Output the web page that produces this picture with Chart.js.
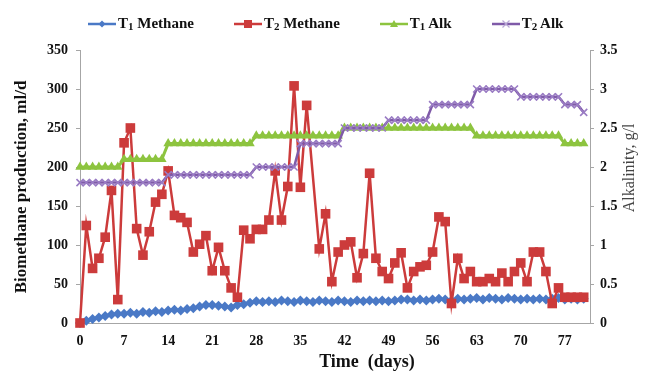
<!DOCTYPE html>
<html>
<head>
<meta charset="utf-8">
<script src="https://cdn.jsdelivr.net/npm/chart.js@4.4.0/dist/chart.umd.min.js"></script>
<style>
  html, body { margin: 0; padding: 0; background: #fff; }
  #wrap { position: relative; width: 647px; height: 373px; }
  #legend {
    position: absolute; top: 15px; left: 88px;
    display: flex; gap: 40px;
    font: bold 15px 'Liberation Serif', serif; color: #111;
  }
  .item { display: flex; align-items: center; white-space: nowrap; }
  .item svg { margin-right: 2px; }
  sub { font-size: 11px; vertical-align: -2px; line-height: 0; }
</style>
</head>
<body>
<div id="wrap">
  <canvas id="chart" width="647" height="373"></canvas>
  <div id="legend"></div>
</div>
<script>
// Days (x values)
const days = [0,1,2,3,4,5,6,7,8,9,10,11,12,13,14,15,16,17,18,19,20,21,22,23,24,25,26,27,28,29,30,
  31,32,33,34,35,36,37,38,39,40,41,42,43,44,45,46,47,48,49,50,51,52,53,54,55,56,57,58,59,60,
  61,62,63,64,65,66,67,68,69,70,71,72,73,74,75,76,77,78,79,80];

// Biomethane production, ml/d
const t1Methane = [0,3,5,7,9,11,12,12,13,12,14,13,15,14,16,17,16,18,19,21,23,23,22,21,20,23,24,26,28,27,
  28,27,29,28,27,29,28,27,29,28,27,29,28,27,29,28,29,28,29,28,29,30,30,29,30,29,30,31,30,29,
  31,30,31,32,30,32,31,30,32,31,30,31,30,31,30,31,32,30,31,30,31];
const t2Methane = [0,125,70,83,110,170,30,231,250,121,87,117,155,165,195,138,135,129,91,101,
  112,67,97,67,45,33,119,108,120,120,132,195,132,175,304,174,279,null,95,140,
  53,91,100,104,58,89,192,83,66,57,77,90,45,66,72,74,91,136,130,25,
  83,57,66,53,53,57,53,64,53,66,77,53,91,91,66,25,45,33,33,33,33];

// Alkalinity, g/l
const t1Alk = [2.0,2.0,2.0,2.0,2.0,2.0,2.0, 2.1,2.1,2.1,2.1,2.1,2.1,2.1,
  2.3,2.3,2.3,2.3,2.3,2.3,2.3,2.3,2.3,2.3,2.3,2.3,2.3,2.3,
  2.4,2.4,2.4,2.4,2.4,2.4,2.4,2.4,2.4,2.4,2.4,2.4,2.4,2.4,
  2.5,2.5,2.5,2.5,2.5,2.5,2.5,2.5,2.5,2.5,2.5,2.5,2.5,2.5,2.5,2.5,2.5,2.5,2.5,2.5,2.5,
  2.4,2.4,2.4,2.4,2.4,2.4,2.4,2.4,2.4,2.4,2.4,2.4,2.4,2.4,
  2.3,2.3,2.3,2.3];
const t2Alk = [1.8,1.8,1.8,1.8,1.8,1.8,1.8,1.8,1.8,1.8,1.8,1.8,1.8,1.8,
  1.9,1.9,1.9,1.9,1.9,1.9,1.9,1.9,1.9,1.9,1.9,1.9,1.9,1.9,
  2.0,2.0,2.0,2.0,2.0,2.0,2.0, 2.3,2.3,2.3,2.3,2.3,2.3,2.3,
  2.5,2.5,2.5,2.5,2.5,2.5,2.5, 2.6,2.6,2.6,2.6,2.6,2.6,2.6,
  2.8,2.8,2.8,2.8,2.8,2.8,2.8, 3.0,3.0,3.0,3.0,3.0,3.0,3.0,
  2.9,2.9,2.9,2.9,2.9,2.9,2.9, 2.8,2.8,2.8, 2.7];

const xTickStep = 7;
const leftTickStep = 50;
const rightTickStep = 0.5;

const BLUE = '#4a79c6';
const RED = '#cc3b3b';
const GREEN = '#8dc43f';
const PURPLE = '#7f5aa8';

const pts = arr => days.map((d, i) => ({ x: d, y: arr[i] }));

// legend (HTML)
const legendItems = [
  { t: 'T', sub: '1', rest: ' Methane', color: BLUE, mk: 'diamond' },
  { t: 'T', sub: '2', rest: ' Methane', color: RED, mk: 'square' },
  { t: 'T', sub: '1', rest: ' Alk', color: GREEN, mk: 'triangle' },
  { t: 'T', sub: '2', rest: ' Alk', color: PURPLE, mk: 'cross' }
];
function markerSvg(mk, c) {
  let m = '';
  if (mk === 'diamond') m = `<polygon points="14,2.5 17.5,6 14,9.5 10.5,6" fill="${c}"/>`;
  if (mk === 'square') m = `<rect x="10" y="2" width="8" height="8" fill="${c}"/>`;
  if (mk === 'triangle') m = `<polygon points="14,2 18,9 10,9" fill="${c}"/>`;
  if (mk === 'cross') m = `<path d="M10.5 2.5 L17.5 9.5 M17.5 2.5 L10.5 9.5" stroke="#b9a6d6" stroke-width="1.2"/>`;
  return `<svg width="28" height="12"><line x1="0" y1="6" x2="28" y2="6" stroke="${c}" stroke-width="2.5"/>${m}</svg>`;
}
document.getElementById('legend').innerHTML = legendItems.map(it =>
  `<div class="item">${markerSvg(it.mk, it.color)}<span>${it.t}<sub>${it.sub}</sub>${it.rest}</span></div>`
).join('');

// axis titles drawn on canvas
const axisTitles = {
  id: 'axisTitles',
  afterDraw(chart) {
    const ctx = chart.ctx;
    ctx.save();
    ctx.textAlign = 'center';
    ctx.textBaseline = 'middle';
    ctx.fillStyle = '#111';
    ctx.font = 'bold 17px "Liberation Serif"';
    ctx.save();
    ctx.translate(22, 187);
    ctx.rotate(-Math.PI / 2);
    ctx.fillText('Biomethane production, ml/d', 0, 0);
    ctx.restore();

    ctx.fillStyle = '#444';
    ctx.font = '16px "Liberation Serif"';
    ctx.save();
    ctx.translate(630, 168);
    ctx.rotate(-Math.PI / 2);
    ctx.fillText('Alkalinity, g/l', 0, 0);
    ctx.restore();

    ctx.fillStyle = '#111';
    ctx.font = 'bold 18px "Liberation Serif"';
    ctx.fillText('Time  (days)', 367, 362);
    ctx.restore();
  }
};

const tickFont = { family: 'Liberation Serif', size: 14, weight: 'bold' };

new Chart(document.getElementById('chart'), {
  type: 'line',
  data: {
    datasets: [
      {
        label: 'T1 Methane', data: pts(t1Methane), yAxisID: 'y',
        borderColor: BLUE, backgroundColor: BLUE, borderWidth: 2.5,
        pointStyle: 'rectRot', pointRadius: 5, pointBorderWidth: 0,
        tension: 0, clip: false, order: 3
      },
      {
        label: 'T2 Methane', data: pts(t2Methane), yAxisID: 'y',
        borderColor: RED, backgroundColor: RED, borderWidth: 2.5,
        pointStyle: 'rect', pointRadius: 6.8, pointBorderWidth: 0,
        spanGaps: true, tension: 0, clip: false, order: 2
      },
      {
        label: 'T1 Alk', data: pts(t1Alk), yAxisID: 'y1',
        borderColor: GREEN, backgroundColor: GREEN, borderWidth: 3,
        pointStyle: 'triangle', pointRadius: 5.5, pointBorderWidth: 0,
        tension: 0, clip: false, order: 1
      },
      {
        label: 'T2 Alk', data: pts(t2Alk), yAxisID: 'y1',
        borderColor: PURPLE, backgroundColor: PURPLE, borderWidth: 2.5,
        pointStyle: 'crossRot', pointRadius: 5, pointBorderColor: '#9a7cc4', pointBorderWidth: 1.6,
        tension: 0, clip: false, order: 0
      }
    ]
  },
  options: {
    responsive: false,
    animation: false,
    layout: { padding: { top: 50, left: 0, right: 0, bottom: 0 } },
    plugins: { legend: { display: false }, tooltip: { enabled: false } },
    scales: {
      x: {
        type: 'linear', min: 0, max: 81,
        afterBuildTicks: s => { s.ticks = s.ticks.filter(t => t.value % xTickStep === 0); },
        afterFit: s => { s.height = 50; },
        ticks: { stepSize: xTickStep, font: tickFont, color: '#111', padding: 10, maxRotation: 0 },
        grid: { display: false, drawTicks: false },
        border: { display: true, color: '#a6a6a6', width: 1 }
      },
      y: {
        position: 'left', min: 0, max: 350,
        afterFit: s => { s.width = 80; },
        ticks: { stepSize: leftTickStep, font: tickFont, color: '#111', padding: 8 },
        grid: { drawOnChartArea: false, tickLength: 4, color: '#a6a6a6' },
        border: { display: true, color: '#a6a6a6', width: 1 }
      },
      y1: {
        position: 'right', min: 0, max: 3.5,
        afterFit: s => { s.width = 57; },
        ticks: { stepSize: rightTickStep, font: tickFont, color: '#111', padding: 6, callback: v => String(v) },
        grid: { drawOnChartArea: false, tickLength: 4, color: '#a6a6a6' },
        border: { display: true, color: '#a6a6a6', width: 1 }
      }
    }
  },
  plugins: [axisTitles]
});
</script>
</body>
</html>
